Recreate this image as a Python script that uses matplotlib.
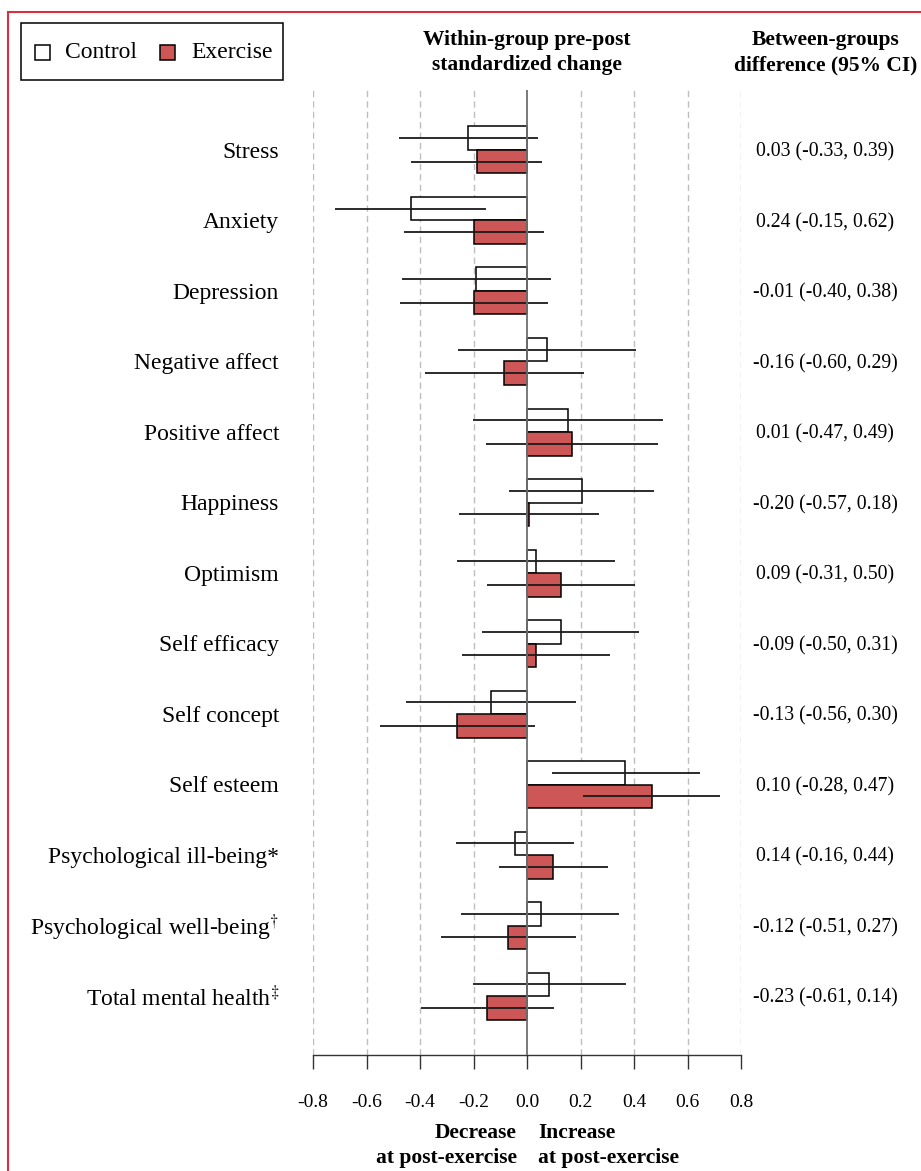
import matplotlib
matplotlib.use("Agg")
import matplotlib.pyplot as plt
from matplotlib.patches import Rectangle
from matplotlib.transforms import blended_transform_factory
import numpy as np

plt.rcParams["font.family"] = ["Liberation Serif", "DejaVu Serif"]
plt.rcParams["mathtext.fontset"] = "stix"
plt.rcParams["axes.unicode_minus"] = False

# ---- data -------------------------------------------------------------
categories = [
    "Stress", "Anxiety", "Depression", "Negative affect", "Positive affect",
    "Happiness", "Optimism", "Self efficacy", "Self concept", "Self esteem",
    "Psychological ill-being*",
    r"Psychological well-being$^{\dagger}$",
    r"Total mental health$^{\ddagger}$",
]

control_mean = [-0.220, -0.435, -0.190, 0.073, 0.153, 0.204, 0.032, 0.126,
                -0.136, 0.368, -0.046, 0.051, 0.083]
control_lo = [-0.479, -0.716, -0.469, -0.259, -0.201, -0.066, -0.262, -0.168,
              -0.454, 0.092, -0.265, -0.245, -0.203]
control_hi = [0.040, -0.152, 0.090, 0.407, 0.510, 0.474, 0.328, 0.419,
              0.184, 0.648, 0.177, 0.345, 0.369]

exercise_mean = [-0.188, -0.198, -0.199, -0.085, 0.168, 0.007, 0.127, 0.032,
                 -0.262, 0.466, 0.097, -0.070, -0.148]
exercise_lo = [-0.433, -0.458, -0.474, -0.382, -0.153, -0.254, -0.149, -0.244,
               -0.551, 0.211, -0.104, -0.320, -0.396]
exercise_hi = [0.057, 0.062, 0.077, 0.213, 0.491, 0.269, 0.402, 0.310,
               0.029, 0.720, 0.301, 0.183, 0.100]

between_ci = [
    "0.03 (-0.33, 0.39)", "0.24 (-0.15, 0.62)", "-0.01 (-0.40, 0.38)",
    "-0.16 (-0.60, 0.29)", "0.01 (-0.47, 0.49)", "-0.20 (-0.57, 0.18)",
    "0.09 (-0.31, 0.50)", "-0.09 (-0.50, 0.31)", "-0.13 (-0.56, 0.30)",
    "0.10 (-0.28, 0.47)", "0.14 (-0.16, 0.44)", "-0.12 (-0.51, 0.27)",
    "-0.23 (-0.61, 0.14)",
]

tick_values = [-0.8, -0.6, -0.4, -0.2, 0.0, 0.2, 0.4, 0.6, 0.8]
tick_labels = ["-0.8", "-0.6", "-0.4", "-0.2", "0.0", "0.2", "0.4", "0.6", "0.8"]

group_names = ["Control", "Exercise"]

# ---- figure -------------------------------------------------------------
W, H = 921, 1171
fig = plt.figure(figsize=(W / 100, H / 100), dpi=100)


def fx(px):
    return px / W


def fy(px):
    return 1 - px / H


ax = fig.add_axes([fx(313), fy(1054.7), fx(741) - fx(313), fy(90) - fy(1054.7)])

exercise_color = "#cd5656"
group_colors = ["white", exercise_color]
bar_h = 1 / 3
pos = np.arange(len(categories))

# vertical reference grid
for v in tick_values:
    if v != 0:
        ax.axvline(v, color="#bdbdbd", lw=1.0, ls=(0, (4.5, 3)), zorder=0)

ax.barh(pos - bar_h / 2, control_mean, height=bar_h, color=group_colors[0],
        edgecolor="black", linewidth=1.1, zorder=2)
ax.barh(pos + bar_h / 2, exercise_mean, height=bar_h, color=group_colors[1],
        edgecolor="black", linewidth=1.1, zorder=2)

ax.hlines(pos - bar_h / 2, control_lo, control_hi, color="#1a1a1a",
          lw=1.3, zorder=3)
ax.hlines(pos + bar_h / 2, exercise_lo, exercise_hi, color="#1a1a1a",
          lw=1.3, zorder=3)

ax.axvline(0, color="#707070", lw=1.3, zorder=4)

ax.set_xlim(-0.8, 0.8)
ax.set_ylim(12.83, -0.85)
for s in ["top", "right", "left"]:
    ax.spines[s].set_visible(False)
ax.spines["bottom"].set_color("#333333")
ax.spines["bottom"].set_linewidth(1.0)
ax.set_yticks([])
ax.set_xticks(tick_values)
ax.set_xticklabels(tick_labels, fontsize=14)
ax.tick_params(axis="x", length=10, width=1.0, color="#333333", pad=18)

# category labels on the left, between-group CIs on the right
lab_tr = blended_transform_factory(fig.transFigure, ax.transData)
for i, (name, ci) in enumerate(zip(categories, between_ci)):
    ax.text(fx(279), i + 0.03, name, transform=lab_tr, ha="right",
            va="center", fontsize=17, clip_on=False)
    ax.text(fx(825), i + 0.03, ci, transform=lab_tr, ha="center",
            va="center", fontsize=14.2, clip_on=False)

# column headers
hdr = dict(fontsize=15.5, fontweight="bold", ha="center", va="center")
fig.text(fx(527), fy(40), "Within-group pre-post", **hdr)
fig.text(fx(527), fy(65), "standardized change", **hdr)
fig.text(fx(826), fy(40), "Between-groups", **hdr)
fig.text(fx(826), fy(65), "difference (95% CI)", **hdr)

# direction captions under the axis
cap = dict(fontsize=15.5, fontweight="bold", va="center")
fig.text(fx(517), fy(1133), "Decrease", ha="right", **cap)
fig.text(fx(517), fy(1158), "at post-exercise", ha="right", **cap)
fig.text(fx(538), fy(1133), "Increase", ha="left", **cap)
fig.text(fx(538), fy(1158), "at post-exercise", ha="left", **cap)

# legend box with square keys
fig.patches.append(Rectangle((fx(21), fy(80)), fx(283) - fx(21),
                             fy(23) - fy(80), transform=fig.transFigure,
                             fill=False, edgecolor="black", linewidth=1.1))
for key_x, text_x, name, col in zip([35, 160], [65, 191], group_names,
                                     group_colors):
    fig.patches.append(Rectangle((fx(key_x), fy(60)), fx(15), 15 / H,
                                 transform=fig.transFigure, facecolor=col,
                                 edgecolor="black", linewidth=1.1))
    fig.text(fx(text_x), fy(52.5), name, ha="left", va="center", fontsize=17)

# outer panel frame
fig.patches.append(Rectangle((fx(8), -0.1), 1.2, 1.1 - 12 / H,
                             transform=fig.transFigure, fill=False,
                             edgecolor="#d8303e", linewidth=1.5))

fig.savefig("out.png", dpi=100)
